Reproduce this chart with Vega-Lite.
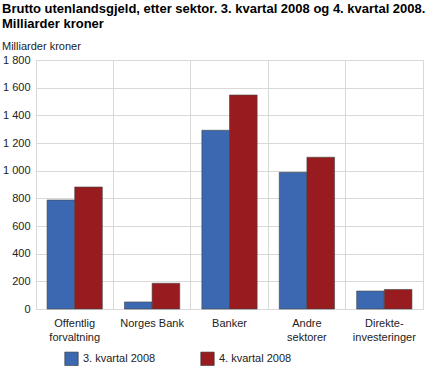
{
  "$schema": "https://vega.github.io/schema/vega-lite/v6.json",
  "width": 387,
  "height": 249,
  "autosize": {"type": "none"},
  "padding": {"left": 36, "top": 60, "right": 4, "bottom": 67},
  "background": "white",
  "title": {
    "text": ["Brutto utenlandsgjeld, etter sektor. 3. kvartal 2008 og 4. kvartal 2008.", "Milliarder kroner"],
    "subtitle": "Milliarder kroner",
    "anchor": "start",
    "frame": "group",
    "dx": -34,
    "offset": 2,
    "limit": 600,
    "font": "Liberation Sans",
    "fontSize": 13,
    "fontWeight": "bold",
    "color": "#000",
    "lineHeight": 15,
    "subtitleFont": "Liberation Sans",
    "subtitleFontSize": 11,
    "subtitleColor": "#222",
    "subtitlePadding": 10
  },
  "data": {
    "values": [
      {"sektor": "Offentlig forvaltning", "periode": "3. kvartal 2008", "verdi": 788},
      {"sektor": "Offentlig forvaltning", "periode": "4. kvartal 2008", "verdi": 882},
      {"sektor": "Norges Bank", "periode": "3. kvartal 2008", "verdi": 51},
      {"sektor": "Norges Bank", "periode": "4. kvartal 2008", "verdi": 186},
      {"sektor": "Banker", "periode": "3. kvartal 2008", "verdi": 1292},
      {"sektor": "Banker", "periode": "4. kvartal 2008", "verdi": 1547},
      {"sektor": "Andre sektorer", "periode": "3. kvartal 2008", "verdi": 988},
      {"sektor": "Andre sektorer", "periode": "4. kvartal 2008", "verdi": 1097},
      {"sektor": "Direkteinvesteringer", "periode": "3. kvartal 2008", "verdi": 130},
      {"sektor": "Direkteinvesteringer", "periode": "4. kvartal 2008", "verdi": 141}
    ]
  },
  "mark": {"type": "bar", "stroke": "#444", "strokeWidth": 0.6},
  "encoding": {
    "x": {
      "field": "sektor",
      "type": "nominal",
      "sort": null,
      "scale": {"paddingInner": 0, "paddingOuter": 0},
      "axis": {
        "title": null,
        "labelAngle": 0,
        "labelFont": "Liberation Sans",
        "labelFontSize": 11,
        "labelColor": "#222",
        "labelPadding": 8,
        "labelLineHeight": 14,
        "ticks": false,
        "domain": false,
        "grid": true,
        "bandPosition": 0,
        "gridColor": "#d9d9d9",
        "labelExpr": "datum.value == 'Offentlig forvaltning' ? ['Offentlig', 'forvaltning'] : datum.value == 'Andre sektorer' ? ['Andre', 'sektorer'] : datum.value == 'Direkteinvesteringer' ? ['Direkte-', 'investeringer'] : datum.value"
      }
    },
    "xOffset": {
      "field": "periode",
      "type": "nominal",
      "scale": {"paddingInner": 0, "paddingOuter": 0.4}
    },
    "y": {
      "field": "verdi",
      "type": "quantitative",
      "scale": {"domain": [0, 1800]},
      "axis": {
        "title": null,
        "values": [0, 200, 400, 600, 800, 1000, 1200, 1400, 1600, 1800],
        "labelExpr": "replace(format(datum.value, ',d'), ',', ' ')",
        "labelFont": "Liberation Sans",
        "labelFontSize": 11,
        "labelColor": "#222",
        "labelPadding": 6,
        "ticks": false,
        "domain": false,
        "gridColor": "#d9d9d9"
      }
    },
    "color": {
      "field": "periode",
      "type": "nominal",
      "scale": {"range": ["#3b68b1", "#981b1f"]},
      "legend": {
        "title": null,
        "orient": "none",
        "legendX": 28,
        "legendY": 291,
        "direction": "horizontal",
        "symbolType": "square",
        "symbolSize": 180,
        "symbolStrokeColor": "#333",
        "symbolStrokeWidth": 0.6,
        "labelFont": "Liberation Sans",
        "labelFontSize": 11,
        "labelColor": "#222",
        "columnPadding": 43,
        "labelOffset": 4
      }
    }
  },
  "config": {
    "view": {"stroke": "#d9d9d9"}
  }
}
